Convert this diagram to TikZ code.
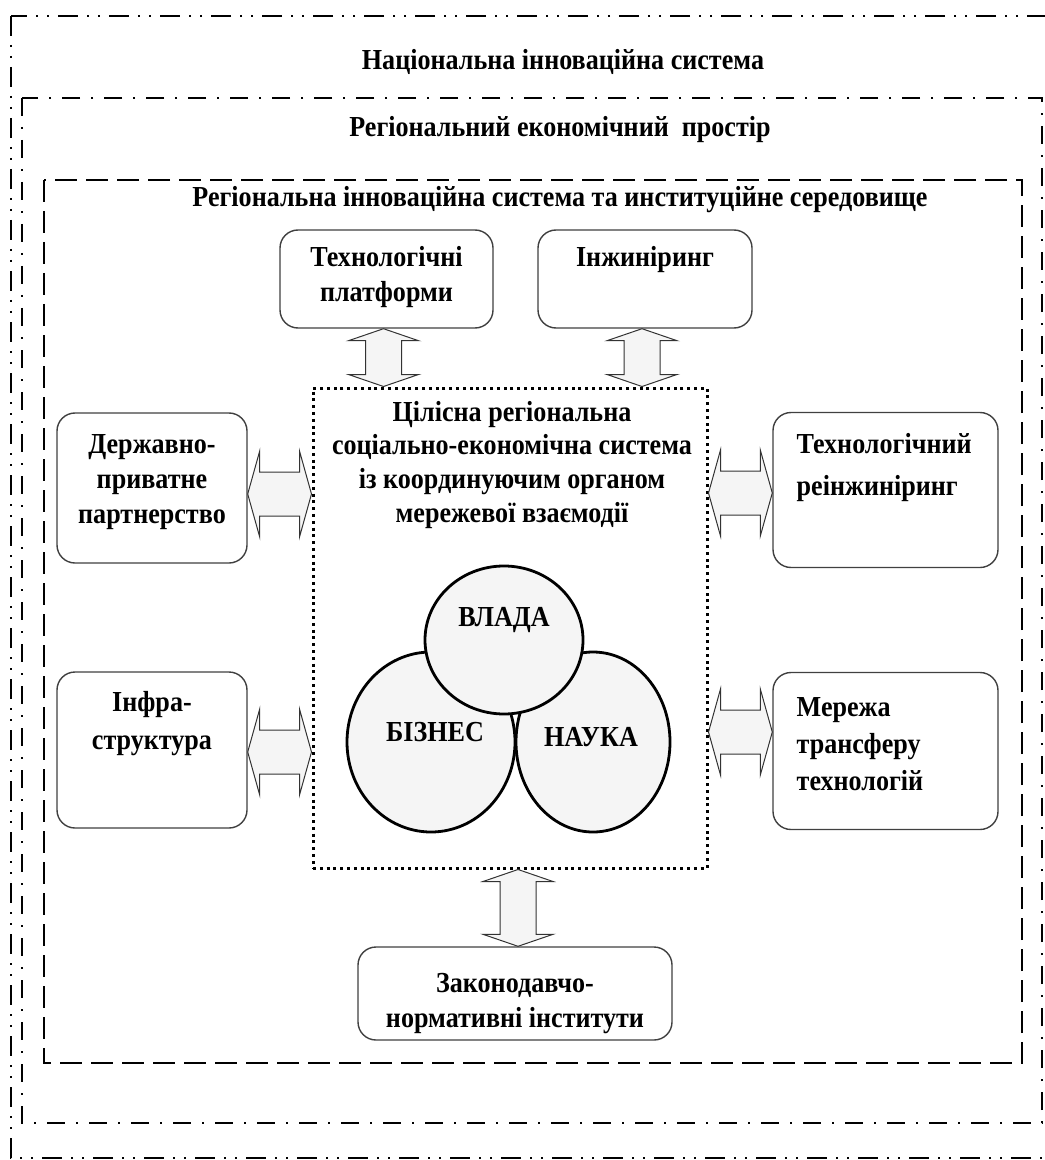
\documentclass[tikz,border=0pt]{standalone}
\usepackage{fontspec}
\setmainfont{Liberation Serif}[FakeStretch=0.9]
\usetikzlibrary{shapes.geometric, calc}
\newcommand{\unitpx}{0.5pt}
\newcommand{\varrow}[2]{\draw[blockarr] (#1) -- ($(#1)+(35,12)$) -- ($(#1)+(18,12)$) -- ($(#2)+(18,-12)$) -- ($(#2)+(35,-12)$) -- (#2) -- ($(#2)+(-35,-12)$) -- ($(#2)+(-18,-12)$) -- ($(#1)+(-18,12)$) -- ($(#1)+(-35,12)$) -- cycle;}
\newcommand{\harrow}[2]{\draw[blockarr] (#1) -- ($(#1)+(12,-43)$) -- ($(#1)+(12,-22)$) -- ($(#2)+(-12,-22)$) -- ($(#2)+(-12,-43)$) -- (#2) -- ($(#2)+(-12,43)$) -- ($(#2)+(-12,22)$) -- ($(#1)+(12,22)$) -- ($(#1)+(12,43)$) -- cycle;}

\begin{document}
\begin{tikzpicture}[x=\unitpx, y=-\unitpx, font=\fontsize{14.5}{17.5}\selectfont\bfseries]
\tikzstyle{frame}=[line width=1.45pt]
\tikzstyle{box}=[draw=black!75, line width=0.7pt, rounded corners=9pt, fill=white, inner sep=0pt]
\tikzstyle{txt}=[inner sep=0pt, align=center]
\tikzstyle{blockarr}=[draw=black!80, line width=0.5pt, fill=black!4]
\tikzstyle{circ}=[draw, ellipse, line width=1.4pt, fill=black!4, inner sep=0pt]

\useasboundingbox (0,0) rectangle (1044,1160);

\draw[frame, dash pattern=on 10pt off 4.5pt on 1pt off 4.5pt on 1pt off 4.5pt] (11,16) rectangle (1070,1158);

\draw[frame, dash pattern=on 9pt off 5.5pt on 1pt off 5.5pt] (22,98) rectangle (1042,1123);

\draw[frame, dash pattern=on 11pt off 4.5pt] (44,180) rectangle (1022,1063);

\node[txt] (nis) at (563,62) {Національна інноваційна система};

\node[txt] (res) at (560,130) {Регіональний економічний\ \ простір};

\node[txt] (ris) at (560,200) {Регіональна інноваційна система та институційне середовище};

\node[box, minimum width=213*\unitpx, minimum height=98*\unitpx] (tp) at (386.5,279) {};
\node[txt, anchor=north] (tpt) at ($(tp.north)+(0,17)$) {Технологічні\\платформи};

\node[box, minimum width=214*\unitpx, minimum height=98*\unitpx] (eng) at (645,279) {};
\node[txt, anchor=north] (engt) at ($(eng.north)+(0,17)$) {Інжиніринг};

\node[box, minimum width=190*\unitpx, minimum height=150*\unitpx] (ppp) at (152,488) {};
\node[txt, anchor=north] (pppt) at ($(ppp.north)+(0,22)$) {Державно-\\приватне\\партнерство};

\node[box, minimum width=190*\unitpx, minimum height=156*\unitpx] (infra) at (152,750) {};
\node[txt, anchor=north, font=\fontsize{14.5}{19}\selectfont\bfseries] (infrat) at ($(infra.north)+(0,20)$) {Інфра-\\структура};

\node[box, minimum width=225*\unitpx, minimum height=155*\unitpx] (reeng) at (885.5,490) {};
\node[txt, anchor=north west, align=left, font=\fontsize{14.5}{21}\selectfont\bfseries] (reengt) at ($(reeng.north west)+(24,21)$) {Технологічний\\реінжиніринг};

\node[box, minimum width=225*\unitpx, minimum height=157*\unitpx] (ttn) at (885.5,751) {};
\node[txt, anchor=north west, align=left, font=\fontsize{14.5}{18.5}\selectfont\bfseries] (ttnt) at ($(ttn.north west)+(24,25)$) {Мережа\\трансферу\\технологій};

\node[box, minimum width=314*\unitpx, minimum height=93*\unitpx] (law) at (515,993.5) {};
\node[txt, anchor=north] (lawt) at ($(law.north)+(0,27)$) {Законодавчо-\\нормативні інститути};

\node[draw, line width=1.5pt, dash pattern=on 1.5pt off 1.9pt, minimum width=394*\unitpx, minimum height=480*\unitpx, inner sep=0pt] (core) at (510,628) {};
\node[txt, anchor=north, font=\fontsize{14.5}{16.9}\selectfont\bfseries] (coret) at ($(core.north)+(2,14)$) {Цілісна регіональна\\соціально-економічна система\\із координуючим органом\\мережевої взаємодії};

\node[circ, minimum width=168*\unitpx, minimum height=180*\unitpx] (biz) at (431,742) {};
\node[circ, minimum width=154*\unitpx, minimum height=180*\unitpx] (nauka) at (593,742) {};
\node[circ, minimum width=158*\unitpx, minimum height=148*\unitpx] (vlada) at (504,640) {};
\node[txt] (vladat) at ($(vlada)+(0,-20)$) {ВЛАДА};
\node[txt] (bizt) at ($(biz)+(4,-10)$) {БІЗНЕС};
\node[txt] (naukat) at ($(nauka)+(-2,-5)$) {НАУКА};

\coordinate (tpA) at ($(tp.south)+(-3,0)$);
\coordinate (tpB) at (tpA |- core.north);
\varrow{tpA}{tpB}

\coordinate (engA) at ($(eng.south)+(-3,0)$);
\coordinate (engB) at (engA |- core.north);
\varrow{engA}{engB}

\coordinate (lawA) at ($(core.south)+(8,0)$);
\coordinate (lawB) at (lawA |- law.north);
\varrow{lawA}{lawB}

\coordinate (pppA) at ($(ppp.east)+(0,6)$);
\coordinate (pppB) at (core.west |- pppA);
\harrow{pppA}{pppB}

\coordinate (infraA) at ($(infra.east)+(0,2)$);
\coordinate (infraB) at (core.west |- infraA);
\harrow{infraA}{infraB}

\coordinate (reengB) at ($(reeng.west)+(0,3)$);
\coordinate (reengA) at (core.east |- reengB);
\harrow{reengA}{reengB}

\coordinate (ttnB) at ($(ttn.west)+(0,-19)$);
\coordinate (ttnA) at (core.east |- ttnB);
\harrow{ttnA}{ttnB}

\end{tikzpicture}
\end{document}
